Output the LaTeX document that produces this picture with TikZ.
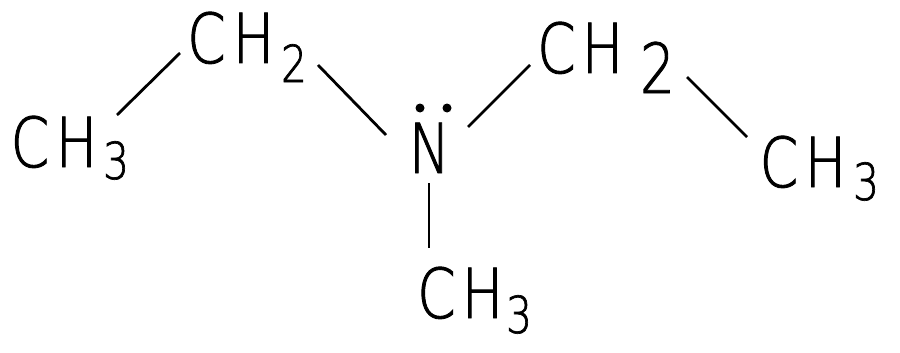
\documentclass[tikz,border=0pt]{standalone}
\usepackage{fontspec}
\newfontfamily\chemfam[FakeStretch=0.8,FakeBold=1.3]{DejaVu Sans ExtraLight}
\newcommand{\atomfont}{\chemfam\fontsize{69}{72}\selectfont}
\newcommand{\subfont}{\chemfam\fontsize{51}{54}\selectfont}
\begin{document}
\begin{tikzpicture}[x=1pt,y=-1pt,
  atom/.style={inner sep=0pt,anchor=base,font=\atomfont},
  subatom/.style={inner sep=0pt,anchor=base,font=\subfont},
  bond/.style={line width=2.8pt},
  lonepair/.style={fill=black}]
\useasboundingbox (0,0) rectangle (900,353);
% left CH3
\node[atom] (lc) at (30,167) {C};
\node[atom] (lh) at (76.5,167) {H};
\node[subatom] (l3) at (116,179) {3};
% upper left CH2
\node[atom] (ac) at (206.5,63) {C};
\node[atom] (ah) at (253.5,63) {H};
\node[subatom] (a2) at (294,82) {2};
% N
\node[atom] (n) at (429.5,173) {N};
\fill[lonepair] (420,108) circle (4.5);
\fill[lonepair] (447,108) circle (4.5);
% upper right CH2
\node[atom] (bc) at (556.5,73) {C};
\node[atom] (bh) at (602.5,73) {H};
\node[atom] (b2) at (657.5,93) {2};
% right CH3
\node[atom] (rc) at (779,187) {C};
\node[atom] (rh) at (825.5,187) {H};
\node[subatom] (r3) at (866,200) {3};
% bottom CH3
\node[atom] (dc) at (436.5,318) {C};
\node[atom] (dh) at (482.5,318) {H};
\node[subatom] (d3) at (519,333) {3};
% bond ends
\coordinate (b1s) at (117,115); \coordinate (b1e) at (180,53);
\coordinate (b2s) at (318,65);  \coordinate (b2e) at (386,135);
\coordinate (b3s) at (468,127); \coordinate (b3e) at (530,65);
\coordinate (b4s) at (687,77);  \coordinate (b4e) at (747,137);
\coordinate (b5s) at (429,183); \coordinate (b5e) at (429,248);
\draw[bond] (b1s) -- (b1e);
\draw[bond] (b2s) -- (b2e);
\draw[bond] (b3s) -- (b3e);
\draw[bond] (b4s) -- (b4e);
\draw[bond] (b5s) -- (b5e);
\end{tikzpicture}
\end{document}
